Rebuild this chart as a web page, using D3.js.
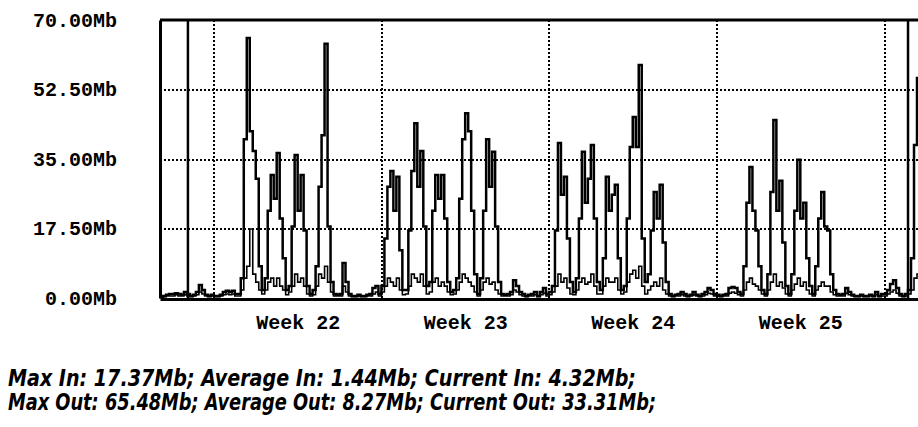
<!DOCTYPE html>
<html lang="en">
<head>
  <meta charset="UTF-8">
  <title>Traffic, weeks 22-25</title>
  <script src="https://d3js.org/d3.v7.min.js"></script>
  <style>
    body { margin: 0; background: #fff; overflow: hidden; }
    svg { display: block; }
    .tick text { font-family: "Liberation Mono", "DejaVu Sans Mono", monospace; font-weight: bold; font-size: 20px; fill: #000; }
    .grid line { stroke: #000; stroke-width: 2; stroke-dasharray: 2,2; shape-rendering: crispEdges; }
    .summary { font-family: "DejaVu Sans", sans-serif; font-style: italic; font-weight: bold; font-stretch: condensed; font-size: 23px; fill: #000; }
  </style>
</head>
<body>
  <script>
    // 3-hour samples, hour 0 = start of week 22
    const sampleHours = 3;
    const firstHour = -54;

    const outWk21 = [0.3,0.5,0.8,1,1,1.2,1,0.8,1.5,1,0.5,0.8,1.5,3.3,2,0.8,0.5,0.8];
    const outWk22 = [0.5,0.5,0.8,1.5,1.8,1.5,1.8,1,1,
      5,40,65.48,42,37,30,8,2,
      5,22,31,25,36.5,20,10,2,
      3,18,36,22,31,17,3,
      1,2,
      8,28,41,64,18,4,
      1,0.8,1,
      8.8,4,1,
      0.5,0.5,0.8,0.5,0.5,0.8,1,2.5,3,1];
    const outWk23 = [3,15,28,32,22,30.5,12,2,
      2,17,32,44,28,37,18,3,
      4,22,31,25,31,20,4,
      1.5,2,
      5,25,40,46.5,42,22,6,1,
      5,22,40,28,36.8,18,4,
      1,0.8,1,1.5,
      4.5,3,1.5,
      1,0.5,0.8,1,1.5,0.5,1.5,2.5,1];
    const outWk24 = [1.5,
      3,17,39,26,30.5,15,4,
      1.5,
      5,20,36.8,24,30,38.5,20,4,
      2,
      10,30.5,22,26,28.5,10,2,
      3,20,38,45.6,38,58.7,15,4,
      6,17,26.7,20,28.5,14,4,1,
      0.5,0.8,1,1.5,1,0.5,0.8,1.5,0.8,0.5,1,1.5,2.5,2,1];
    const outWk25 = [0.8,0.5,0.8,1,2.5,2.8,2.5,1.5,1,
      8,24,33,22,17,8,2,
      1,
      6,26.7,44.8,22,29.5,14,3,
      1,
      6,22,34.8,20,24,10,3,
      1,
      8,20,26.7,18,17,6,2,
      1,0.8,1,
      2.5,1.5,
      0.8,0.5,0.5,0.8,0.5,0.5,0.8,0.5,1.5,0.5,1];
    const outWk26 = [1,2,3.5,4.5,2.5,1,0.5,1,2,10,38.5,55.4,33.31];

    const inWk21 = [0.3,0.3,0.5,0.5,0.5,0.8,0.5,0.5,0.8,0.5,0.3,0.5,0.8,1.5,1,0.5,0.3,0.5];
    const inWk22 = [0.3,0.3,0.5,0.8,1,0.8,1,0.5,0.5,
      2,5,8,17.37,6,4,2,1,
      2,4,5,3,5,3,2,0.8,
      1.5,3,6,4,5,3,1,
      0.5,0.8,
      3,6,5,8,4,1.5,
      0.5,0.5,0.5,
      3,1.5,0.5,
      0.3,0.3,0.5,0.3,0.3,0.5,0.5,1,1.5,0.5];
    const inWk23 = [1.5,3,5,4,3,5,2,0.8,
      1,3,6,5,4,6,3,1,
      1.5,4,5,3,4,3,1.5,
      0.8,1,
      2,4,6,5,4,3,1.5,0.5,
      2,4,5,3.5,4,2,1,
      0.5,0.5,0.5,0.8,
      2,1.5,0.8,
      0.5,0.3,0.5,0.5,0.8,0.3,0.8,1.2,0.5];
    const inWk24 = [0.8,
      1.5,3,6,4,5,2.5,1,
      0.8,
      2,4,5,3.5,4,6,3,1,
      1,
      3,5,4,4,5,2,1,
      1.5,4,6,7,5,8,3,1,
      2,3,4,3,5,2,1,0.5,
      0.3,0.5,0.5,0.8,0.5,0.3,0.5,0.8,0.5,0.3,0.5,0.8,1.2,1,0.5];
    const inWk25 = [0.5,0.3,0.5,0.5,1.2,1.5,1.2,0.8,0.5,
      2,4,5,3.5,3,2,1,
      0.5,
      2,4,6,3,4,2.5,1,
      0.5,
      2,3.5,5,3,4,2,1,
      0.5,
      2,3,4,3,3,1.5,0.8,
      0.5,0.5,0.5,
      1.2,0.8,
      0.5,0.3,0.3,0.5,0.3,0.3,0.5,0.3,0.8,0.3,0.5];
    const inWk26 = [0.5,1,1.5,2,1.2,0.5,0.3,0.5,1,2,5,6,4.32];

    const weekStarts = [0, 168, 336, 504, 672];
    const weekLabels = ["Week 22", "Week 23", "Week 24", "Week 25"];
    const monthMarks = [-26, 696];
    const yTicks = [0, 17.5, 35, 52.5, 70];
    const summaryLines = [
      "Max In: 17.37Mb; Average In: 1.44Mb; Current In: 4.32Mb;",
      "Max Out: 65.48Mb; Average Out: 8.27Mb; Current Out: 33.31Mb;"
    ];
    const summaryWidths = [628, 648];

    const width = 918, height = 427;
    const plot = { left: 160, top: 20, right: 918, bottom: 298 };

    const toPoints = arr => {
      const pts = arr.map((v, i) => ({ h: firstHour + i * sampleHours, v }));
      pts.push({ h: pts[pts.length - 1].h + sampleHours, v: arr[arr.length - 1] });
      return pts;
    };
    const outData = toPoints([].concat(outWk21, outWk22, outWk23, outWk24, outWk25, outWk26));
    const inData = toPoints([].concat(inWk21, inWk22, inWk23, inWk24, inWk25, inWk26));

    const x = d3.scaleLinear().domain([-54, 706]).range([plot.left, plot.right]);
    const y = d3.scaleLinear().domain([0, 70]).range([plot.bottom, plot.top]);

    const svg = d3.select("body").append("svg")
      .attr("width", width)
      .attr("height", height);

    svg.append("clipPath").attr("id", "clip")
      .append("rect")
      .attr("x", plot.left).attr("y", plot.top - 2)
      .attr("width", plot.right - plot.left).attr("height", plot.bottom - plot.top + 4);

    // grid
    svg.append("g")
      .attr("class", "grid")
      .attr("transform", `translate(${plot.left},0)`)
      .call(d3.axisLeft(y).tickValues(yTicks.slice(1, -1)).tickSize(-(plot.right - plot.left)).tickFormat(""))
      .call(g => g.select(".domain").remove());

    svg.append("g")
      .attr("class", "grid")
      .attr("transform", `translate(0,${plot.bottom})`)
      .call(d3.axisBottom(x).tickValues(weekStarts).tickSize(-(plot.bottom - plot.top)).tickFormat(""))
      .call(g => g.select(".domain").remove());

    // month markers
    svg.append("g")
      .selectAll("line")
      .data(monthMarks)
      .join("line")
      .attr("x1", d => x(d)).attr("x2", d => x(d))
      .attr("y1", plot.top).attr("y2", plot.bottom)
      .attr("stroke", "#000")
      .attr("stroke-width", 2.5);

    const line = d3.line()
      .x(d => x(d.h))
      .y(d => y(d.v))
      .curve(d3.curveStepAfter);

    const series = svg.append("g").attr("clip-path", "url(#clip)");
    series.append("path")
      .datum(inData)
      .attr("fill", "none")
      .attr("stroke", "#000")
      .attr("stroke-width", 1.6)
      .attr("d", line);
    series.append("path")
      .datum(outData)
      .attr("fill", "none")
      .attr("stroke", "#000")
      .attr("stroke-width", 2.5)
      .attr("d", line);

    // frame
    svg.append("line")
      .attr("x1", plot.left).attr("x2", plot.right)
      .attr("y1", plot.top).attr("y2", plot.top)
      .attr("stroke", "#000").attr("stroke-width", 3);

    // y axis
    svg.append("g")
      .attr("transform", `translate(${plot.left},0)`)
      .call(d3.axisLeft(y).tickValues(yTicks).tickSize(0).tickPadding(43).tickFormat(d => d3.format(".2f")(d) + "Mb"))
      .call(g => g.select(".domain").attr("stroke", "#000").attr("stroke-width", 3));

    // x axis
    svg.append("g")
      .attr("transform", `translate(0,${plot.bottom + 1})`)
      .call(d3.axisBottom(x)
        .tickValues(weekStarts.slice(0, -1).map(h => h + 84))
        .tickSize(0).tickPadding(16)
        .tickFormat((d, i) => weekLabels[i]))
      .call(g => g.select(".domain").attr("stroke", "#000").attr("stroke-width", 3));

    svg.append("g")
      .selectAll("text")
      .data(summaryLines)
      .join("text")
      .attr("class", "summary")
      .attr("x", 8)
      .attr("y", (d, i) => 386 + i * 24)
      .attr("textLength", (d, i) => summaryWidths[i])
      .attr("lengthAdjust", "spacingAndGlyphs")
      .text(d => d);
  </script>
</body>
</html>
